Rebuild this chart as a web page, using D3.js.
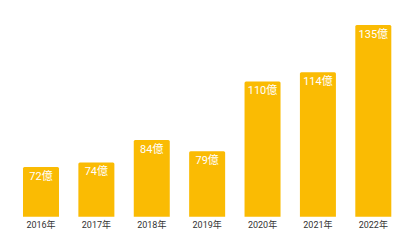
<!DOCTYPE html>
<html>
<head>
<meta charset="utf-8">
<script src="https://cdn.jsdelivr.net/npm/d3@7"></script>
<style>
  body { margin: 0; background: #fff; }
  text { font-family: Roboto, "Noto Sans CJK JP", sans-serif; }
</style>
</head>
<body>
<div id="chart"></div>
<script>
var years = ["2016年", "2017年", "2018年", "2019年", "2020年", "2021年", "2022年"];
var values = [72, 74, 84, 79, 110, 114, 135];
var unit = "億";

var svgWidth = 418;
var svgHeight = 243;

var svg = d3.select("#chart")
  .append("svg")
  .attr("width", svgWidth)
  .attr("height", svgHeight);

var x = d3.scaleBand()
  .domain(years)
  .range([13.3, 401])
  .paddingInner(0.35)
  .paddingOuter(0.175);

var y = d3.scaleLinear()
  .domain([50, 135])
  .range([216.7, 25]);

var data = years.map((d, i) => ({ year: d, value: values[i] }));

// bars
svg.selectAll("path.bar")
  .data(data)
  .enter()
  .append("path")
  .attr("class", "bar")
  .attr("fill", "#fabb03")
  .attr("d", function(d) {
    var x0 = x(d.year), w = x.bandwidth(), y0 = y(d.value), y1 = y(50), r = 1.5;
    return `M${x0},${y1}V${y0 + r}Q${x0},${y0} ${x0 + r},${y0}H${x0 + w - r}Q${x0 + w},${y0} ${x0 + w},${y0 + r}V${y1}Z`;
  });

// value labels
svg.selectAll("text.val")
  .data(data)
  .enter()
  .append("text")
  .attr("class", "val")
  .attr("x", d => x(d.year) + x.bandwidth() / 2)
  .attr("y", d => y(d.value) + 12.7)
  .attr("text-anchor", "middle")
  .attr("font-size", "11px")
  .attr("fill", "#fff")
  .text(d => d.value + unit);

// x axis
var xAxis = d3.axisBottom(x).tickSize(0).tickPadding(0);
var gx = svg.append("g")
  .attr("transform", `translate(0, ${y(50)})`)
  .call(xAxis);
gx.select(".domain").remove();
gx.selectAll("text")
  .attr("dy", null)
  .attr("y", 11.5)
  .attr("font-size", "9px")
  .attr("fill", "#333");
</script>
</body>
</html>
